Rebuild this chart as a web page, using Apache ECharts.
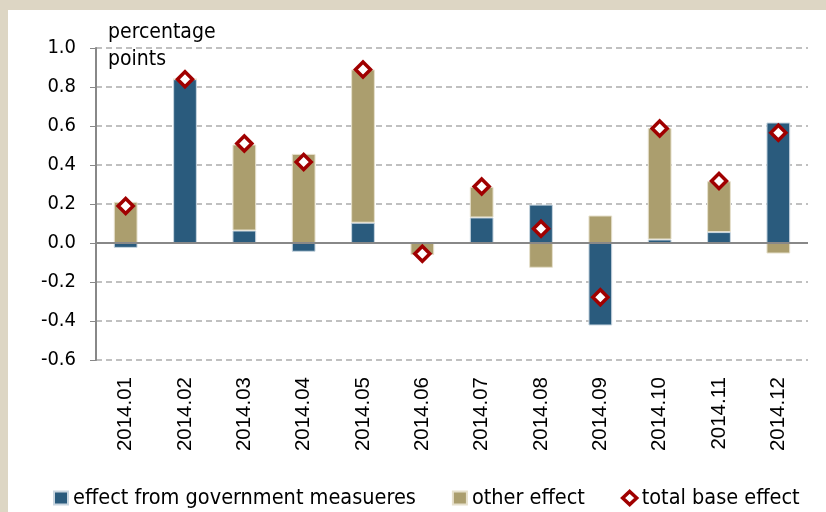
<!DOCTYPE html>
<html>
<head>
<meta charset="utf-8">
<script src="https://cdn.jsdelivr.net/npm/echarts@6/dist/echarts.min.js"></script>
<style>
  html, body { margin: 0; padding: 0; background: #ddd6c4; width: 826px; height: 512px; overflow: hidden; }
  #chart { position: absolute; left: 8px; top: 10px; width: 818px; height: 502px; background: #ffffff; }
</style>
</head>
<body>
<div id="chart"></div>
<script>
  var months = ['2014.01', '2014.02', '2014.03', '2014.04', '2014.05', '2014.06',
                '2014.07', '2014.08', '2014.09', '2014.10', '2014.11', '2014.12'];
  var govEffect = [-0.025, 0.84, 0.064, -0.045, 0.104, 0.005, 0.131, 0.197, -0.423, 0.018, 0.056, 0.618];
  var otherEffect = [0.211, 0.0, 0.441, 0.457, 0.786, -0.062, 0.157, -0.127, 0.141, 0.572, 0.261, -0.054];
  var totalEffect = [0.19, 0.84, 0.51, 0.415, 0.89, -0.055, 0.29, 0.073, -0.278, 0.587, 0.318, 0.565];

  var font = '"DejaVu Sans Condensed", "Open Sans", sans-serif';
  var arial = '"Liberation Sans", Arial, sans-serif';

  var chart = echarts.init(document.getElementById('chart'));
  var option = {
    backgroundColor: '#ffffff',
    animation: false,
    textStyle: { fontFamily: font },
    grid: { left: 88, right: 18, top: 38, bottom: 152, containLabel: false },
    graphic: [{
      type: 'text',
      left: 100,
      top: 9,
      style: {
        text: 'percentage\npoints',
        font: '21px ' + font,
        lineHeight: 27,
        fill: '#000000'
      }
    }],
    legend: {
      top: 472,
      left: 40,
      itemWidth: 14,
      itemHeight: 13,
      itemGap: 36,
      textStyle: { fontSize: 21.5, color: '#000000', fontFamily: font },
      data: [
        { name: 'effect from government measueres', icon: 'rect' },
        { name: 'other effect', icon: 'rect' },
        { name: 'total base effect', icon: 'diamond', itemStyle: { color: '#ffffff', borderColor: '#a00000', borderWidth: 3.5 } }
      ]
    },
    xAxis: {
      type: 'category',
      data: months,
      axisLine: { show: false, onZero: false },
      axisTick: { show: false },
      axisLabel: { rotate: 90, fontSize: 20.5, color: '#000000', margin: 17, fontFamily: arial }
    },
    yAxis: {
      type: 'value',
      min: -0.6,
      max: 1.0,
      interval: 0.2,
      axisLine: { show: true, lineStyle: { color: '#888888', width: 2 } },
      axisTick: { show: true, inside: false, length: 6, lineStyle: { color: '#888888' } },
      axisLabel: {
        fontSize: 20, color: '#000000', margin: 20, fontFamily: font,
        formatter: function (v) { return v.toFixed(1); }
      },
      splitLine: { show: true, lineStyle: { color: '#c0c0c0', type: [6, 4], width: 2 } }
    },
    series: [
      {
        name: 'effect from government measueres',
        type: 'bar',
        stack: 'effect',
        barWidth: '40%',
        itemStyle: { color: '#2a5b7d', borderColor: '#c9d6e0', borderWidth: 1 },
        data: govEffect,
        markLine: {
          silent: true,
          symbol: 'none',
          label: { show: false },
          lineStyle: { color: '#888888', width: 2, type: 'solid' },
          data: [{ yAxis: 0 }]
        }
      },
      {
        name: 'other effect',
        type: 'bar',
        stack: 'effect',
        barWidth: '40%',
        itemStyle: { color: '#ab9e6e', borderColor: '#e6e0cc', borderWidth: 1 },
        data: otherEffect
      },
      {
        name: 'total base effect',
        type: 'scatter',
        symbol: 'diamond',
        symbolSize: 15,
        z: 5,
        itemStyle: { color: '#ffffff', borderColor: '#a00000', borderWidth: 3.5, opacity: 1 },
        data: totalEffect
      }
    ]
  };
  chart.setOption(option);
</script>
</body>
</html>
